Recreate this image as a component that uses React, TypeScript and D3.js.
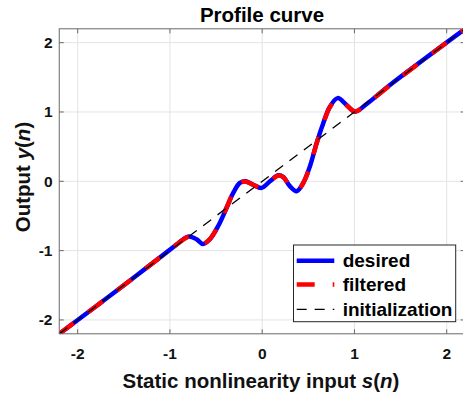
import React from "react";
import * as d3 from "d3";

const desiredX = [-2.2, -1.5, -1.1, -0.928, -0.86, -0.795, -0.712, -0.64, -0.567, -0.477, -0.386, -0.314, -0.242, -0.177, -0.098, -0.007, 0.084, 0.174, 0.23, 0.3, 0.373, 0.445, 0.517, 0.59, 0.662, 0.734, 0.818, 0.915, 1.005, 1.132, 1.385, 2.2];
const desiredY = [-2.2, -1.5, -1.09, -0.912, -0.84, -0.795, -0.836, -0.905, -0.836, -0.645, -0.382, -0.167, -0.023, 0.0, -0.05, -0.095, 0.0, 0.086, 0.06, -0.07, -0.143, -0.023, 0.215, 0.551, 0.838, 1.076, 1.2, 1.1, 1.004, 1.115, 1.39, 2.2];
const filteredX = desiredX;
const filteredY = [-2.2, -1.5, -1.09, -0.912, -0.845, -0.8, -0.838, -0.9, -0.832, -0.643, -0.38, -0.165, -0.025, -0.005, -0.05, -0.09, -0.002, 0.082, 0.058, -0.068, -0.138, -0.025, 0.212, 0.548, 0.835, 1.07, 1.19, 1.095, 1.008, 1.115, 1.385, 2.2];
const initX = [-2.2, 2.2];
const initY = [-2.2, 2.2];
const xTicks = [-2, -1, 0, 1, 2];
const yTicks = [-2, -1, 0, 1, 2];
const legendLabels = ["desired", "filtered", "initialization"];

const W = 463;
const H = 393;
const L = 59.25, R = 465.15, T = 28.8, B = 333.8;

export default function App() {
  const x = d3.scaleLinear().domain([-2.2, 2.2]).range([L, R]);
  const y = d3.scaleLinear().domain([-2.2, 2.2]).range([B, T]);
  const line = d3
    .line<[number, number]>()
    .x((d) => x(d[0]))
    .y((d) => y(d[1]))
    .curve(d3.curveCatmullRom.alpha(0.5));
  const desired = line(desiredX.map((v, i) => [v, desiredY[i]] as [number, number])) || "";
  const filtered = line(filteredX.map((v, i) => [v, filteredY[i]] as [number, number])) || "";
  const init = d3
    .line<[number, number]>()
    .x((d) => x(d[0]))
    .y((d) => y(d[1]))(initX.map((v, i) => [v, initY[i]] as [number, number])) || "";

  const font = "'Liberation Sans', Arial, Helvetica, sans-serif";
  const axisColor = "#6a6a6a";
  const tl = 4.5;

  const legX = 293.5, legY = 245, legW = 162.2, legH = 76.7;
  const rows = [260.7, 284.5, 309.3];
  const styles = [
    { stroke: "#0000ff", w: 4.5, dash: undefined as string | undefined },
    { stroke: "#ff0000", w: 4.5, dash: "18 18" },
    { stroke: "#000000", w: 1.3, dash: "10 8" },
  ];

  return (
    <div style={{ position: "absolute", left: 0, top: 0 }}>
      <svg width={W} height={H} style={{ display: "block", background: "#fff" }} fontFamily={font}>
        <defs>
          <clipPath id="plotclip">
            <rect x={L} y={T} width={R - L} height={B - T} />
          </clipPath>
        </defs>
        <rect x={0} y={0} width={W} height={H} fill="#fff" />
        {/* grid */}
        {xTicks.map((t) => (
          <line key={"gx" + t} x1={x(t)} x2={x(t)} y1={T} y2={B} stroke="#e3e3e3" strokeWidth={1} />
        ))}
        {yTicks.map((t) => (
          <line key={"gy" + t} x1={L} x2={R} y1={y(t)} y2={y(t)} stroke="#e3e3e3" strokeWidth={1} />
        ))}
        {/* curves */}
        <g clipPath="url(#plotclip)" fill="none">
          <path d={desired} stroke="#0000ff" strokeWidth={4.5} strokeLinejoin="round" strokeLinecap="round" />
          <path d={filtered} stroke="#ff0000" strokeWidth={4.5} strokeDasharray="18 18" strokeLinejoin="round" />
          <path d={init} stroke="#000" strokeWidth={1.3} strokeDasharray="10 8" />
        </g>
        {/* axes box */}
        <rect x={L} y={T} width={R - L} height={B - T} fill="none" stroke={axisColor} strokeWidth={1} />
        {xTicks.map((t) => (
          <g key={"tx" + t}>
            <line x1={x(t)} x2={x(t)} y1={B} y2={B - tl} stroke={axisColor} />
            <line x1={x(t)} x2={x(t)} y1={T} y2={T + tl} stroke={axisColor} />
            <text x={x(t)} y={359} textAnchor="middle" fontSize={15.5} fontWeight="bold" fill="#111">
              {t}
            </text>
          </g>
        ))}
        {yTicks.map((t) => (
          <g key={"ty" + t}>
            <line x1={L} x2={L + tl} y1={y(t)} y2={y(t)} stroke={axisColor} />
            <line x1={R} x2={R - tl} y1={y(t)} y2={y(t)} stroke={axisColor} />
            <text x={52.5} y={y(t) + 5.5} textAnchor="end" fontSize={15.5} fontWeight="bold" fill="#111">
              {t}
            </text>
          </g>
        ))}
        {/* title and labels */}
        <text x={262} y={21.5} textAnchor="middle" fontSize={20.5} fontWeight="bold" fill="#000">
          Profile curve
        </text>
        <text x={261} y={388} textAnchor="middle" fontSize={20.5} fontWeight="bold" fill="#111">
          Static nonlinearity input <tspan fontStyle="italic">s</tspan>(<tspan fontStyle="italic">n</tspan>)
        </text>
        <text
          transform="translate(29.5,177) rotate(-90)"
          textAnchor="middle"
          fontSize={20.5}
          fontWeight="bold"
          fill="#111"
        >
          Output <tspan fontStyle="italic">y</tspan>(<tspan fontStyle="italic">n</tspan>)
        </text>
        {/* legend */}
        <rect x={legX} y={legY} width={legW} height={legH} fill="#fff" stroke="#262626" strokeWidth={1} />
        {legendLabels.map((lab, i) => (
          <g key={lab}>
            <line
              x1={296.7}
              x2={334.3}
              y1={rows[i]}
              y2={rows[i]}
              stroke={styles[i].stroke}
              strokeWidth={styles[i].w}
              strokeDasharray={styles[i].dash}
            />
            <text x={342.7} y={rows[i] + 6.5} fontSize={19} fontWeight="bold" fill="#000">
              {lab}
            </text>
          </g>
        ))}
      </svg>
    </div>
  );
}
